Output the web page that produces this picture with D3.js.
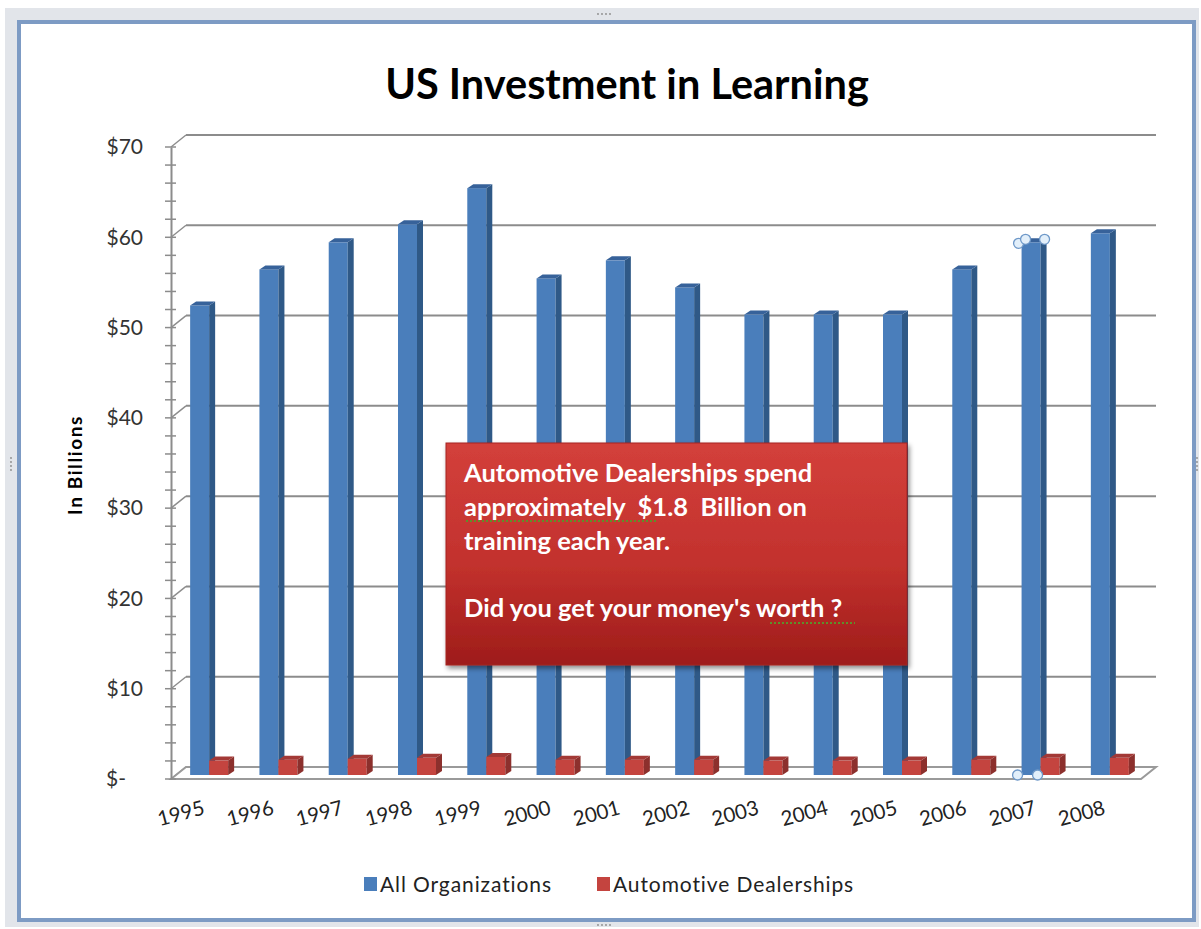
<!DOCTYPE html>
<html lang="en">
<head>
  <meta charset="utf-8">
  <script src="https://cdnjs.cloudflare.com/ajax/libs/d3/7.8.5/d3.min.js"></script>
  <title>US Investment in Learning</title>
</head>

<style>
body{
  margin:0;
  background:#ffffff;
}
svg text{
  font-family: Lato, "Open Sans", sans-serif;
}
</style>

<body>
  <div id="chart"></div>
</body>
</html>

<script>
  // values
  const years = ["1995","1996","1997","1998","1999","2000","2001","2002","2003","2004","2005","2006","2007","2008"];
  const allOrgs = [52,56,59,61,65,55,57,54,51,51,51,56,59,60];
  const autoDealers = [1.6,1.7,1.8,1.9,2.0,1.7,1.7,1.7,1.6,1.6,1.6,1.7,1.9,1.9];
  const seriesNames = ["All Organizations","Automotive Dealerships"];
  const yTicks = [0,10,20,30,40,50,60,70];
  const noteLines = ["Automotive Dealerships spend","approximately  $1.8  Billion on","training each year.","","Did you get your money's worth ?"];

  const width = 1201, height = 929;
  const colors = {
    "All Organizations": {front:"#4a7ebb", side:"#2f5987", top:"#37629a"},
    "Automotive Dealerships": {front:"#c4443f", side:"#8c302d", top:"#a33936"}
  };

  const svg = d3.select("#chart").append("svg").attr("width",width).attr("height",height);

  // window frame round the chart
  svg.append("rect").attr("x",5).attr("y",8).attr("width",1194).attr("height",919).attr("fill","#e2e5ea");
  svg.append("rect").attr("x",19).attr("y",22).attr("width",1175).attr("height",898)
    .attr("fill","#ffffff").attr("stroke","#7d9bc4").attr("stroke-width",4);
  [[598,14],[598,925]].forEach(function(p){
    for(let i=0;i<4;i++){
      svg.append("circle").attr("cx",p[0]+i*4).attr("cy",p[1]).attr("r",0.9).attr("fill","#8a8a8a");
    }
  });
  [[11,458],[1197,458]].forEach(function(p){
    for(let i=0;i<4;i++){
      svg.append("circle").attr("cx",p[0]).attr("cy",p[1]+i*4).attr("r",0.9).attr("fill","#8a8a8a");
    }
  });

  const y = d3.scaleLinear().domain([0,70]).range([779,147]);
  const x0 = d3.scaleBand().domain(years).range([171,1141]);
  const x1 = d3.scaleBand().domain(seriesNames).range([0,38]);
  const wallDx = 15, wallDy = -12;   // depth of the walls
  const barDx = 6, barDy = -4;       // depth of each column
  const barBase = -4;                // columns stand a bit behind the front edge
  const groupShift = x0.bandwidth()/2 - 15.5;

  const grid = svg.append("g").attr("class","walls");

  // back wall gridlines + side wall diagonals
  yTicks.forEach(function(t){
    if(t > 0){
      grid.append("line")
        .attr("x1",171 + wallDx).attr("x2",1141 + wallDx)
        .attr("y1",y(t) + wallDy).attr("y2",y(t) + wallDy)
        .attr("stroke","#8c8c8c").attr("stroke-width",2);
    }
    grid.append("line")
      .attr("x1",171).attr("x2",171 + wallDx)
      .attr("y1",y(t)).attr("y2",y(t) + wallDy)
      .attr("stroke","#8c8c8c").attr("stroke-width",1.5);
  });

  // floor
  grid.append("path")
    .attr("d","M171," + y(0) + "L" + (171+wallDx) + "," + (y(0)+wallDy) + "L" + (1141+wallDx) + "," + (y(0)+wallDy) + "L1141," + y(0) + "Z")
    .attr("fill","#ffffff").attr("stroke","#9a9a9a").attr("stroke-width",2);

  // columns
  const rows = years.map(function(yr,i){
    return {year: yr, values: [
      {series: seriesNames[0], value: allOrgs[i]},
      {series: seriesNames[1], value: autoDealers[i]}
    ]};
  });

  const groups = svg.append("g").attr("class","bars")
    .selectAll(".group")
    .data(rows)
    .enter()
    .append("g")
    .attr("class","group")
    .attr("transform",function(d){return "translate(" + (x0(d.year) + groupShift) + ",0)";});

  const bars = groups.selectAll(".bar")
    .data(function(d){return d.values;})
    .enter()
    .append("g")
    .attr("class","bar");

  const bw = x1.bandwidth();
  bars.append("rect")
    .attr("x",function(d){return x1(d.series);})
    .attr("y",function(d){return y(d.value) + barBase;})
    .attr("width",bw)
    .attr("height",function(d){return y(0) - y(d.value);})
    .attr("fill",function(d){return colors[d.series].front;});

  bars.append("path")
    .attr("d",function(d){
      const xl = x1(d.series) + bw, yt = y(d.value) + barBase, yb = y(0) + barBase;
      return "M" + xl + "," + yt + "L" + (xl+barDx) + "," + (yt+barDy) + "L" + (xl+barDx) + "," + (yb+barDy) + "L" + xl + "," + yb + "Z";
    })
    .attr("fill",function(d){return colors[d.series].side;});

  bars.append("path")
    .attr("d",function(d){
      const xl = x1(d.series), yt = y(d.value) + barBase;
      return "M" + xl + "," + yt + "L" + (xl+barDx) + "," + (yt+barDy) + "L" + (xl+bw+barDx) + "," + (yt+barDy) + "L" + (xl+bw) + "," + yt + "Z";
    })
    .attr("fill",function(d){return colors[d.series].top;});

  // selection handles on the 2007 column
  const selX = x0("2007") + groupShift + x1(seriesNames[0]);
  const selTop = y(allOrgs[years.indexOf("2007")]) + barBase;
  const handles = [[selX-3,selTop+1],[selX+4,selTop-3],[selX+bw+barDx-2,selTop-3],[selX-4,y(0)-4],[selX+bw-3,y(0)-4]];
  svg.append("g").selectAll("circle")
    .data(handles)
    .enter()
    .append("circle")
    .attr("cx",function(d){return d[0];})
    .attr("cy",function(d){return d[1];})
    .attr("r",5)
    .attr("fill","#e2effa")
    .attr("stroke","#6e98c8")
    .attr("stroke-width",1.3);

  // y axis
  const yAxis = d3.axisLeft(y).tickValues(yTicks).tickSize(0).tickPadding(28)
    .tickFormat(function(d){return d === 0 ? "$-" : "$" + d;});
  const yAxisG = svg.append("g").attr("transform","translate(171,0)").call(yAxis);
  yAxisG.select(".domain").attr("stroke","#8c8c8c").attr("stroke-width",2);
  yAxisG.selectAll("text").attr("font-size",21).attr("fill","#333333")
    .attr("font-family","Lato, sans-serif");
  yAxisG.selectAll(".tick").filter(function(d){return d === 0;}).select("text")
    .attr("text-anchor","start").attr("x",-65);

  yAxisG.selectAll(".minor")
    .data(d3.range(0,71,2))
    .enter()
    .append("line")
    .attr("class","minor")
    .attr("x1",-6).attr("x2",5)
    .attr("y1",function(d){return y(d);}).attr("y2",function(d){return y(d);})
    .attr("stroke","#8c8c8c").attr("stroke-width",1.5);

  // year labels
  svg.append("g").selectAll(".year")
    .data(years)
    .enter()
    .append("text")
    .attr("class","year")
    .attr("text-anchor","end")
    .attr("font-size",20.5)
    .attr("fill","#222222")
    .attr("transform",function(d){return "translate(" + (x0(d) + x0.bandwidth()/2) + ",814) rotate(-15)";})
    .text(function(d){return d;});

  // axis title
  svg.append("text")
    .attr("transform","translate(82,465) rotate(-90)")
    .attr("text-anchor","middle")
    .attr("font-size",19)
    .attr("font-weight","bold")
    .attr("letter-spacing",1.6)
    .attr("fill","#000000")
    .text("In Billions");

  // chart title
  svg.append("text")
    .attr("x",627).attr("y",99)
    .attr("text-anchor","middle")
    .attr("font-size",41.5)
    .attr("font-weight","bold")
    .attr("fill","#000000")
    .text("US Investment in Learning");

  // legend
  const legend = svg.append("g").selectAll(".legend")
    .data(seriesNames)
    .enter()
    .append("g")
    .attr("class","legend")
    .attr("transform",function(d,i){return "translate(" + [364,597][i] + ",884)";});
  legend.append("rect").attr("x",0).attr("y",-7).attr("width",13).attr("height",14)
    .attr("fill",function(d){return colors[d].front;});
  legend.append("text").attr("x",16).attr("y",7.5).attr("font-size",21).attr("letter-spacing",0.9).attr("fill","#222222")
    .text(function(d){return d;});

  // annotation box
  const defs = svg.append("defs");
  const grad = defs.append("linearGradient").attr("id","noteFill").attr("x1",0).attr("y1",0).attr("x2",0).attr("y2",1);
  grad.append("stop").attr("offset","0%").attr("stop-color","#d3403b");
  grad.append("stop").attr("offset","55%").attr("stop-color","#c2312d");
  grad.append("stop").attr("offset","100%").attr("stop-color","#9e1c1a");
  const shadow = defs.append("filter").attr("id","noteShadow").attr("x","-5%").attr("y","-5%").attr("width","115%").attr("height","120%");
  shadow.append("feDropShadow").attr("dx",2).attr("dy",3).attr("stdDeviation",2.5).attr("flood-color","#000000").attr("flood-opacity",0.45);

  const note = svg.append("g").attr("class","note");
  note.append("rect").attr("x",446).attr("y",443).attr("width",461).attr("height",222)
    .attr("fill","url(#noteFill)").attr("stroke","#a52420").attr("stroke-width",1)
    .attr("filter","url(#noteShadow)");
  note.selectAll("text")
    .data(noteLines)
    .enter()
    .append("text")
    .attr("x",464)
    .attr("y",function(d,i){return 482 + i*33.8;})
    .attr("font-size",25.5)
    .attr("font-weight","bold")
    .attr("fill","#ffffff")
    .attr("xml:space","preserve")
    .style("white-space","pre")
    .text(function(d){return d;});
  // spell-check squiggles
  [[466,521,657],[770,623,855]].forEach(function(s){
    note.append("line").attr("x1",s[0]).attr("x2",s[2]).attr("y1",s[1]).attr("y2",s[1])
      .attr("stroke","#5f8f2a").attr("stroke-width",2).attr("stroke-dasharray","2,2");
  });
</script>
